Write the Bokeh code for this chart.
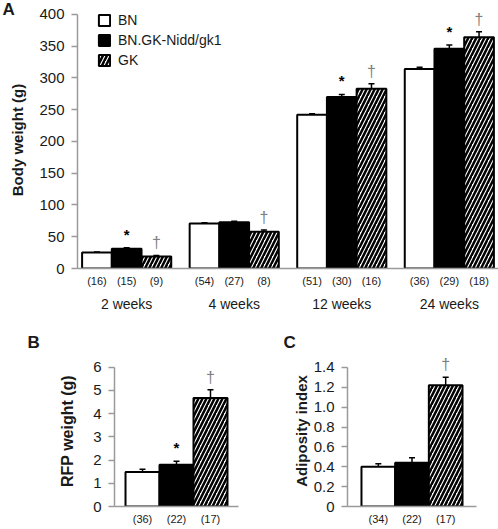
from bokeh.plotting import figure
from bokeh.models import (FactorRange, ColumnDataSource, Whisker, TeeHead, Legend,
                          LegendItem, FixedTicker, PrintfTickFormatter, Range1d, Title)
from bokeh.layouts import column, row
from bokeh.core.properties import value
from bokeh.embed import file_html
from bokeh.resources import INLINE

FONT = "Liberation Sans"

# ---------------- data ----------------
strains = ["BN", "BN.GK-Nidd/gk1", "GK"]
weeks = ["2 weeks", "4 weeks", "12 weeks", "24 weeks"]
n_a = [["(16)", "(15)", "(9)"], ["(54)", "(27)", "(8)"],
       ["(51)", "(30)", "(16)"], ["(36)", "(29)", "(18)"]]
bw_bn = [25, 71, 242, 314]
bw_cong = [31, 73, 270, 346]
bw_gk = [19, 58, 283, 364]
err_bn = [1, 1, 1.5, 3]
err_cong = [1.5, 1.5, 4, 6]
err_gk = [1.5, 2.5, 8, 9]
sig_bn = ["", "", "", ""]
sig_cong = ["*", "", "*", "*"]
sig_gk = ["†", "†", "†", "†"]

n_b = ["(36)", "(22)", "(17)"]
rfp = [1.48, 1.80, 4.67]
rfp_err = [0.12, 0.15, 0.36]
rfp_sig = ["", "*", "†"]

n_c = ["(34)", "(22)", "(17)"]
adip = [0.40, 0.44, 1.22]
adip_err = [0.03, 0.05, 0.08]
adip_sig = ["", "", "†"]

fills = ["white", "black", "white"]
hatches = [" ", " ", "/"]
AXIS_GREY = "#9a9a9a"
TXT = "#1a1a1a"


def style_axes(p, label, label_standoff, y_bounds):
    p.xgrid.visible = False
    p.ygrid.visible = False
    p.outline_line_color = None
    p.background_fill_color = "white"
    p.border_fill_color = "white"
    for ax in (p.xaxis, p.yaxis):
        ax.axis_line_color = AXIS_GREY
        ax.axis_line_width = 1.5
        ax.minor_tick_line_color = None
        ax.major_label_text_font = FONT
        ax.major_label_text_color = TXT
    p.xaxis.axis_label = None
    p.xaxis.major_tick_line_color = None
    p.xaxis.major_tick_in = 0
    p.xaxis.major_tick_out = 0
    p.xaxis.major_label_text_font_size = "11px"
    p.xaxis.major_label_standoff = 6
    p.yaxis.bounds = y_bounds
    p.yaxis.major_tick_line_color = AXIS_GREY
    p.yaxis.major_tick_line_width = 1.5
    p.yaxis.major_tick_in = 0
    p.yaxis.major_tick_out = 6
    p.yaxis.major_label_text_font_size = "15px"
    p.yaxis.major_label_standoff = 7
    p.yaxis.axis_label = label
    p.yaxis.axis_label_text_font = FONT
    p.yaxis.axis_label_text_font_style = "bold"
    p.yaxis.axis_label_text_font_size = "15px"
    p.yaxis.axis_label_text_color = TXT
    p.yaxis.axis_label_standoff = label_standoff


def add_marks(p, xs, vals, errs, sigs, fill, hatch):
    src = ColumnDataSource(dict(x=xs, top=vals, up=[v + e for v, e in zip(vals, errs)]))
    r = p.vbar(x="x", top="top", width=1.0, source=src, fill_color=fill,
               line_color="black", line_width=2, hatch_pattern=hatch,
               hatch_color="black", hatch_scale=8, hatch_weight=2.5)
    w = Whisker(base="x", lower="top", upper="up", source=src, level="overlay",
                line_color="black", line_width=1.5,
                upper_head=TeeHead(size=6, line_width=1.5, line_color="black"),
                lower_head=None)
    p.add_layout(w)
    sx = [x for x, s in zip(xs, sigs) if s == "*"]
    sy = [v + e for v, e, s in zip(vals, errs, sigs) if s == "*"]
    if sx:
        p.text(x=sx, y=sy, text=["*"] * len(sx), text_font=value(FONT),
               text_font_style="bold", text_font_size="15px",
               text_align="center", text_baseline="bottom", y_offset=-5,
               text_color="black")
    dx = [x for x, s in zip(xs, sigs) if s == "†"]
    dy = [v + e for v, e, s in zip(vals, errs, sigs) if s == "†"]
    if dx:
        p.text(x=dx, y=dy, text=["†"] * len(dx), text_font=value(FONT),
               text_font_size="16px", text_align="center",
               text_baseline="bottom", y_offset=-4, text_color="#808080")
    return r


def panel_title(p, txt, offset, standoff):
    p.add_layout(Title(text=txt, align="left", offset=offset, standoff=standoff,
                       text_font=FONT, text_font_style="bold", text_font_size="17px",
                       text_color=TXT), "above")


# ---------------- panel A ----------------
factors = [(w, n) for w, ns in zip(weeks, n_a) for n in ns]
xrA = FactorRange(*factors, factor_padding=0, group_padding=0.62,
                  range_padding=0.155, range_padding_units="absolute")
pA = figure(x_range=xrA, y_range=Range1d(0, 404.7), width=498, height=325,
            output_backend="svg", toolbar_location=None,
            min_border_left=77, min_border_right=0, min_border_top=11,
            min_border_bottom=57)
style_axes(pA, "Body weight (g)", 10, (0, 400))
pA.yaxis.ticker = FixedTicker(ticks=list(range(0, 401, 50)))
pA.xaxis.group_text_font = FONT
pA.xaxis.group_text_font_size = "14px"
pA.xaxis.group_text_color = TXT
pA.xaxis.group_text_font_style = "normal"
pA.xaxis.separator_line_color = None

seriesA = [(bw_bn, err_bn, sig_bn), (bw_cong, err_cong, sig_cong), (bw_gk, err_gk, sig_gk)]
rendsA = []
for i, (vals, errs, sigs) in enumerate(seriesA):
    xs = [(w, n_a[g][i]) for g, w in enumerate(weeks)]
    rendsA.append(add_marks(pA, xs, vals, errs, sigs, fills[i], hatches[i]))

legend = Legend(items=[LegendItem(label=s, renderers=[r]) for s, r in zip(strains, rendsA)],
                location=(20, 200), glyph_width=14, glyph_height=14, label_height=14,
                spacing=4, padding=0, margin=0, border_line_color=None,
                background_fill_alpha=0, label_text_font=FONT,
                label_text_font_size="14px", label_standoff=7, label_text_color=TXT)
pA.add_layout(legend)
panel_title(pA, "A", -75, -14)

# ---------------- panel B ----------------
pB = figure(x_range=FactorRange(*n_b, range_padding=0.324, range_padding_units="absolute"),
            y_range=Range1d(0, 6.5), width=240, height=204,
            output_backend="svg", toolbar_location=None,
            min_border_left=114, min_border_right=2, min_border_top=30,
            min_border_bottom=23)
style_axes(pB, "RFP weight (g)", 14, (0, 6))
pB.yaxis.ticker = FixedTicker(ticks=[0, 1, 2, 3, 4, 5, 6])
pB.yaxis.axis_label_text_font_size = "16px"
for i in range(3):
    add_marks(pB, [n_b[i]], [rfp[i]], [rfp_err[i]], [rfp_sig[i]], fills[i], hatches[i])
panel_title(pB, "B", -87, 8)

# ---------------- panel C ----------------
pC = figure(x_range=FactorRange(*n_c, range_padding=0.415, range_padding_units="absolute"),
            y_range=Range1d(0, 1.52), width=258, height=204,
            output_backend="svg", toolbar_location=None,
            min_border_left=107, min_border_right=22, min_border_top=30,
            min_border_bottom=23)
style_axes(pC, "Adiposity index", 1, (0, 1.4))
pC.yaxis.ticker = FixedTicker(ticks=[0, 0.2, 0.4, 0.6, 0.8, 1.0, 1.2, 1.4])
pC.yaxis.formatter = PrintfTickFormatter(format="%.1f")
pC.yaxis.major_label_overrides = {0: "0"}
for i in range(3):
    add_marks(pC, [n_c[i]], [adip[i]], [adip_err[i]], [adip_sig[i]], fills[i], hatches[i])
panel_title(pC, "C", -64, 8)

layout = column(pA, row(pB, pC, spacing=0), spacing=0)
open("out.html", "w").write(file_html(layout, INLINE))
